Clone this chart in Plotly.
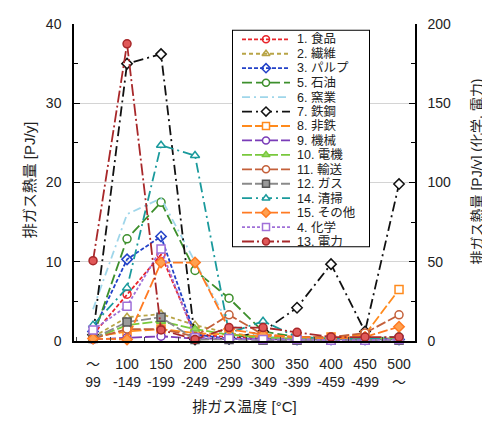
import plotly.graph_objects as go

# ---------------- data ----------------
temp_top = ["～", "100", "150", "200", "250", "300", "350", "400", "450", "500"]
temp_bottom = ["99", "-149", "-199", "-249", "-299", "-349", "-399", "-459", "-499", "～"]

shokuhin = [0.8, 5.9, 10.9, 0.8, 0.5, 0.3, 0.3, 0.3, 0.3, 0.3]
seni = [0.5, 3.0, 3.4, 2.0, 1.0, 0.5, 0.3, 0.3, 0.3, 0.3]
pulp = [1.2, 10.3, 13.2, 0.8, 0.3, 0.3, 0.2, 0.2, 0.2, 0.2]
sekiyu = [0.5, 12.9, 17.5, 8.9, 5.4, 1.2, 0.5, 0.3, 0.3, 0.5]
yogyo = [4.0, 16.0, 18.0, 10.0, 2.0, 0.6, 0.3, 0.3, 0.2, 0.5]
tekko = [0.8, 35.0, 36.2, 0.2, 0.3, 1.2, 4.2, 9.7, 1.2, 19.8]
hitetsu = [0.5, 1.2, 1.5, 1.0, 0.8, 0.6, 0.5, 0.5, 0.8, 6.5]
kikai = [0.2, 0.4, 0.6, 0.3, 0.3, 0.2, 0.2, 0.2, 0.2, 0.3]
denki = [0.3, 2.0, 2.5, 1.5, 0.8, 0.4, 0.3, 0.3, 0.3, 0.3]
yuso = [0.3, 1.5, 1.5, 0.6, 3.3, 0.8, 0.5, 0.5, 1.0, 3.3]
gas = [0.3, 2.4, 3.0, 0.2, 0.2, 0.1, 0.1, 0.1, 0.1, 0.1]
seiso = [2.0, 6.7, 24.7, 23.4, 1.0, 2.5, 0.5, 0.3, 0.3, 0.5]
sonota = [0.3, 0.2, 9.9, 9.9, 1.5, 0.8, 0.5, 0.3, 0.5, 1.8]
kagaku = [7.0, 22.0, 58.0, 2.0, 1.5, 1.0, 1.0, 0.5, 0.5, 1.0]       # right axis
denryoku = [50.7, 187.5, 7.0, 1.0, 8.5, 8.5, 5.5, 2.5, 2.5, 2.5]   # right axis

series_names = ["1. 食品", "2. 繊維", "3. パルプ", "5. 石油", "6. 窯業", "7. 鉄鋼",
                "8. 非鉄", "9. 機械", "10. 電機", "11. 輸送", "12. ガス", "14. 清掃",
                "15. その他", "4. 化学", "13. 電力"]
series_values = [shokuhin, seni, pulp, sekiyu, yogyo, tekko, hitetsu, kikai, denki,
                 yuso, gas, seiso, sonota, kagaku, denryoku]

left_title = "排ガス熱量 [PJ/y]"
right_title = "排ガス熱量 [PJ/y] (化学, 電力)"
x_title = "排ガス温度 [°C]"

# ---------------- styles ----------------
# (axis, line color, dash, marker symbol or None, marker fill, marker line color)
styles = [
    ("y", "#e8242a", "4px,2px", "circle-open", None, "#e8242a"),
    ("y", "#b8a446", "4px,3px", "triangle-up-open", None, "#b8a446"),
    ("y", "#2342c8", "4px,2px", "diamond-open", None, "#2342c8"),
    ("y", "#3d8f2c", "10px,4px", "circle", "white", "#3d8f2c"),
    ("y", "#9fd6ea", "8px,4px,2px,4px", None, None, None),
    ("y", "#111111", "10px,4px,2px,4px", "diamond", "white", "#111111"),
    ("y", "#ff8a1c", "10px,3px", "square", "white", "#ff8a1c"),
    ("y", "#7a3cb8", "10px,3px", "circle", "white", "#7a3cb8"),
    ("y", "#78c83c", "10px,3px", "triangle-up", "#9ad86a", "#78c83c"),
    ("y", "#c4603a", "10px,3px", "circle", "white", "#c4603a"),
    ("y", "#8a8a8a", "10px,3px", "square", "#9a9a9a", "#555555"),
    ("y", "#1a9a9c", "10px,4px,2px,4px", "triangle-up", "white", "#1a9a9c"),
    ("y", "#ff7a22", "10px,3px", "diamond", "#ffa050", "#ff7a22"),
    ("y2", "#a070d8", "3px,2px", "square", "white", "#a070d8"),
    ("y2", "#a8282a", "12px,3px,2px,3px", "circle", "#e05858", "#a8282a"),
]

FONT = "Liberation Sans, Arial, Noto Sans CJK JP, sans-serif"
categories = [f"{a}<br>{b}" for a, b in zip(temp_top, temp_bottom)]

fig = go.Figure()

for name, vals, st in zip(series_names, series_values, styles):
    axis, color, dash, sym, fill, mline = st
    kw = dict(x=categories, y=vals, name=name, yaxis=axis, showlegend=False,
              cliponaxis=False, line=dict(color=color, width=1.8, dash=dash))
    if sym is None:
        kw["mode"] = "lines"
    else:
        kw["mode"] = "lines+markers"
        kw["marker"] = dict(symbol=sym, size=8,
                            color=fill if fill else color,
                            line=dict(color=mline, width=1.5))
    fig.add_trace(go.Scatter(**kw))

# ---------------- custom compact legend ----------------
LEG_W, LEG_H = 138, 227
step = 15.08
for i, (name, st) in enumerate(zip(series_names, styles)):
    axis, color, dash, sym, fill, mline = st
    yy = 10 + step * i
    kw = dict(x=[10, 34, 58], y=[yy, yy, yy], xaxis="x3", yaxis="y3",
              showlegend=False, hoverinfo="skip", cliponaxis=False,
              line=dict(color=color, width=1.8, dash=dash))
    if sym is None:
        kw["mode"] = "lines"
    else:
        kw["mode"] = "lines+markers"
        kw["marker"] = dict(symbol=sym, size=7, opacity=[0, 1, 0],
                            color=fill if fill else color,
                            line=dict(color=mline, width=1.5))
    fig.add_trace(go.Scatter(**kw))
    fig.add_annotation(x=63, y=yy, xref="x3", yref="y3", text=name,
                       showarrow=False, xanchor="left", yanchor="middle",
                       font=dict(family=FONT, size=12.5, color="#222"))

fig.add_shape(type="rect", xref="x3", yref="y3", x0=0, x1=LEG_W, y0=0, y1=LEG_H,
              line=dict(color="black", width=2), fillcolor="white", layer="between")

# axis titles (placed as rotated annotations)
fig.add_annotation(x=-0.132, y=0.51, xref="paper", yref="paper", text=left_title,
                   textangle=-90, showarrow=False, xanchor="center", yanchor="middle",
                   font=dict(family=FONT, size=15, color="#222"))
fig.add_annotation(x=1.182, y=0.535, xref="paper", yref="paper", text=right_title,
                   textangle=-90, showarrow=False, xanchor="center", yanchor="middle",
                   font=dict(family=FONT, size=14, color="#222"))

axis_common = dict(showline=True, linecolor="black", linewidth=1.5, mirror=False,
                   tickfont=dict(family=FONT, size=14, color="#222"),
                   zeroline=False)

# page body has an 8px default margin: figure is 8px smaller so it fits 490x421
fig.update_layout(
    width=482, height=413,
    margin=dict(l=66, r=75, t=8, b=74),
    paper_bgcolor="white", plot_bgcolor="white",
    font=dict(family=FONT, color="#222"),
    showlegend=False,
    xaxis=dict(type="category", range=[-0.56, 9.47], ticks="inside", ticklen=4,
               tickson="boundaries", showgrid=False, ticklabelstandoff=9, tickangle=0,
               title=dict(text=x_title, font=dict(family=FONT, size=15), standoff=13),
               **axis_common),
    yaxis=dict(range=[0, 40], dtick=10, ticks="inside", ticklen=6, tickcolor="black",
               showgrid=True, gridcolor="#d4d4d4", gridwidth=1,
               minor=dict(dtick=5, ticks="inside", ticklen=4, tickcolor="black", showgrid=False),
               ticklabelstandoff=8, ticklabeloverflow="allow",
               **axis_common),
    yaxis2=dict(range=[0, 200], dtick=50, overlaying="y", side="right", ticks="inside",
                ticklen=6, tickcolor="black", showgrid=False,
                minor=dict(dtick=25, ticks="inside", ticklen=4, tickcolor="black", showgrid=False),
                ticklabelstandoff=8, ticklabeloverflow="allow",
                **axis_common),
    xaxis3=dict(domain=[(232 - 74) / 341, (370 - 74) / 341], range=[0, LEG_W], visible=False,
                anchor="y3", fixedrange=True),
    yaxis3=dict(domain=[(347 - 249) / 331, (347 - 22) / 331], range=[LEG_H, 0], visible=False,
                anchor="x3", fixedrange=True),
)

fig.write_html("out.html")
